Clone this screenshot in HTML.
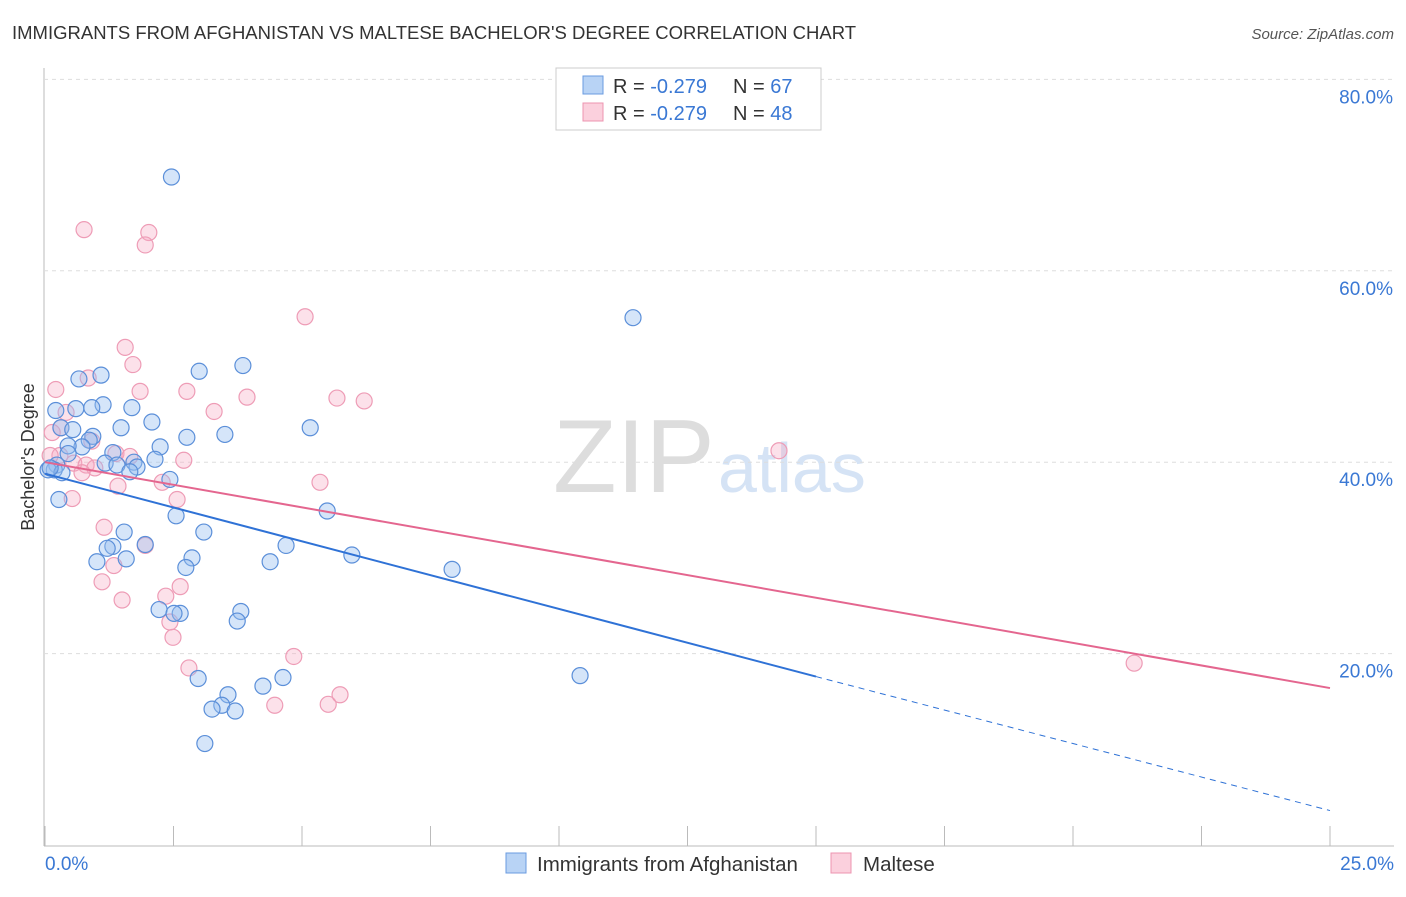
<!DOCTYPE html>
<html><head><meta charset="utf-8"><style>
body{margin:0;background:#fff;font-family:"Liberation Sans",sans-serif}
svg text{font-family:"Liberation Sans",sans-serif}
</style></head><body>
<svg id="c" width="1406" height="892">
<text x="12" y="39" font-size="18.5" fill="#333">IMMIGRANTS FROM AFGHANISTAN VS MALTESE BACHELOR'S DEGREE CORRELATION CHART</text>
<text x="1394" y="39" font-size="15" fill="#555" font-style="italic" text-anchor="end">Source: ZipAtlas.com</text>
<text x="34" y="457" font-size="18" fill="#333" text-anchor="middle" transform="rotate(-90 34 457)">Bachelor's Degree</text>
<text x="553" y="492" font-size="104" fill="#ddd" font-family="Liberation Serif">ZIP</text>
<text x="718" y="492" font-size="70" fill="#d5e3f5">atlas</text>
<g id="grid"></g><g id="pts"></g><g id="trend"></g>
<g>
<rect x="556" y="68" width="265" height="62" fill="#fff" stroke="#ccc"/>
<rect x="583" y="76" width="20" height="18" fill="#b8d3f5" stroke="#6a9be0"/>
<rect x="583" y="103" width="20" height="18" fill="#fbd0dd" stroke="#ec94b0"/>
<text x="613" y="93" font-size="20" fill="#333">R = <tspan fill="#3a78d4">-0.279</tspan></text>
<text x="733" y="93" font-size="20" fill="#333">N = <tspan fill="#3a78d4">67</tspan></text>
<text x="613" y="120" font-size="20" fill="#333">R = <tspan fill="#3a78d4">-0.279</tspan></text>
<text x="733" y="120" font-size="20" fill="#333">N = <tspan fill="#3a78d4">48</tspan></text>
</g>
<g>
<rect x="506" y="853" width="20" height="20" fill="#b8d3f5" stroke="#6a9be0"/>
<text x="537" y="871" font-size="20.5" fill="#333">Immigrants from Afghanistan</text>
<rect x="831" y="853" width="20" height="20" fill="#fbd0dd" stroke="#ec94b0"/>
<text x="863" y="871" font-size="20.5" fill="#333">Maltese</text>
</g>
</svg>
<script>
const xTicks=[0,2.5,5,7.5,10,12.5,15,17.5,20,22.5,25];
const yTicks=[20,40,60,80];
const blueX=[2.46,11.44,3.85,3.0,1.09,0.66,1.13,1.69,0.91,0.21,0.60,2.08,5.16,1.48,0.31,0.54,3.50,2.76,0.93,0.86,2.24,0.72,1.32,0.45,2.14,0.23,0.18,0.45,1.17,1.73,1.40,1.79,0.06,0.33,1.65,2.43,0.27,2.55,5.49,3.09,1.54,4.69,1.32,1.21,5.97,1.95,2.86,1.58,4.38,1.01,2.74,7.92,2.22,3.81,2.63,2.51,3.74,10.41,2.98,4.63,4.24,3.56,3.44,3.25,3.70,3.11,0.10];
const blueY=[69.8,55.1,50.1,49.5,49.1,48.7,46.0,45.7,45.7,45.4,45.6,44.2,43.6,43.6,43.6,43.4,42.9,42.6,42.7,42.3,41.6,41.6,41.0,41.7,40.3,39.7,39.2,40.9,39.9,40.0,39.7,39.5,39.2,38.9,39.0,38.2,36.1,34.4,34.9,32.7,32.7,31.3,31.2,31.0,30.3,31.4,30.0,29.9,29.6,29.6,29.0,28.8,24.6,24.4,24.2,24.2,23.4,17.7,17.4,17.5,16.6,15.7,14.6,14.2,14.0,10.6,39.4];
const pinkX=[0.76,2.02,1.95,5.06,1.56,1.71,0.84,0.21,1.85,2.76,3.93,5.68,6.21,3.29,0.41,0.31,0.91,0.14,0.29,1.38,1.65,2.70,0.56,0.80,0.97,0.10,0.72,5.35,1.42,2.28,0.53,2.57,1.15,1.95,1.34,1.11,2.63,1.50,2.35,2.43,2.49,4.84,2.80,21.19,4.47,5.51,5.74,14.28];
const pinkY=[64.3,64.0,62.7,55.2,52.0,50.2,48.8,47.6,47.4,47.4,46.8,46.7,46.4,45.3,45.2,43.6,42.2,43.1,40.7,40.9,40.6,40.2,39.9,39.7,39.4,40.7,38.9,37.9,37.5,37.9,36.2,36.1,33.2,31.3,29.2,27.5,27.0,25.6,26.0,23.3,21.7,19.7,18.5,19.0,14.6,14.7,15.7,41.2];
const blueTrend=[0,38.8,15,17.6,25,3.6];
const pinkTrend=[0,40.0,25,16.4];
const X=v=>45+v*51.4, Y=v=>845-v*9.57;
const NS='http://www.w3.org/2000/svg';
function mk(tag,attrs,parent){const e=document.createElementNS(NS,tag);for(const k in attrs)e.setAttribute(k,attrs[k]);document.getElementById(parent).appendChild(e);return e;}
let e=mk('line',{x1:44,y1:68,x2:44,y2:846,stroke:'#bbb'},'grid');


e=mk('line',{x1:44,y1:846,x2:1394,y2:846,stroke:'#bbb'},'grid');


yTicks.forEach(t=>{
 e=mk('line',{x1:44,y1:Y(t),x2:1394,y2:Y(t),stroke:'#ddd','stroke-dasharray':'4,4'},'grid');
 
 
 e=mk('text',{x:1393,y:Y(t)+24,'font-size':19,fill:'#3a78d4','text-anchor':'end'},'grid');
 e.textContent=t.toFixed(1)+'%';
 
 
});
xTicks.forEach(t=>{
 e=mk('line',{x1:X(t),y1:826,x2:X(t),y2:846,stroke:'#bbb'},'grid');
 
 
});
e=mk('text',{x:45,y:870,'font-size':19,fill:'#3a78d4'},'grid');e.textContent=xTicks[0].toFixed(1)+'%';


e=mk('text',{x:1394,y:870,'font-size':19,fill:'#3a78d4','text-anchor':'end'},'grid');e.textContent=xTicks[xTicks.length-1].toFixed(1)+'%';


pinkX.forEach((x,i)=>{e=mk('circle',{cx:X(x),cy:Y(pinkY[i]),r:8,fill:'rgba(246,170,195,0.35)',stroke:'#ee9cb6','stroke-width':1.2},'pts');
 
 });
blueX.forEach((x,i)=>{e=mk('circle',{cx:X(x),cy:Y(blueY[i]),r:8,fill:'rgba(150,190,240,0.4)',stroke:'#5b8fd9','stroke-width':1.2},'pts');
 
 });
e=mk('line',{x1:X(blueTrend[0]),y1:Y(blueTrend[1]),x2:X(blueTrend[2]),y2:Y(blueTrend[3]),stroke:'#2f72d6','stroke-width':2},'trend');


e=mk('line',{x1:X(blueTrend[2]),y1:Y(blueTrend[3]),x2:X(blueTrend[4]),y2:Y(blueTrend[5]),stroke:'#2f72d6','stroke-width':1,'stroke-dasharray':'6,5'},'trend');


e=mk('line',{x1:X(pinkTrend[0]),y1:Y(pinkTrend[1]),x2:X(pinkTrend[2]),y2:Y(pinkTrend[3]),stroke:'#e4668f','stroke-width':2},'trend');


</script>
</body></html>
